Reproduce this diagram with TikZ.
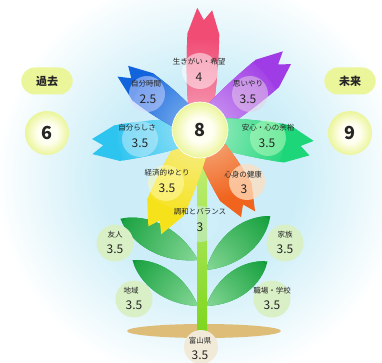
\documentclass[tikz,border=0pt]{standalone}
\usepackage{fontspec}
\setmainfont{Noto Sans CJK JP}
\usetikzlibrary{shapes.misc}

\definecolor{inkgray}{HTML}{262626}
\definecolor{skyglow}{HTML}{CDEEF8}
\definecolor{coreIn}{HTML}{FFFFF2}
\definecolor{coreOut}{HTML}{EBF59A}
\definecolor{stemTop}{HTML}{C4F07A}
\definecolor{stemBot}{HTML}{7ED61E}
\definecolor{leafLight}{HTML}{86D896}
\definecolor{leafDark}{HTML}{0E9C38}
\definecolor{groundTan}{HTML}{DDBD78}
\definecolor{sideGreen}{HTML}{D9F0C6}
\definecolor{homeBeige}{HTML}{F2EAD8}
% petal colours, light / dark
\definecolor{hopeL}{HTML}{F7A6BC}\definecolor{hopeD}{HTML}{F04C74}
\definecolor{careL}{HTML}{D2A6F2}\definecolor{careD}{HTML}{A03CE6}
\definecolor{easeL}{HTML}{A8EEC8}\definecolor{easeD}{HTML}{1ED67A}
\definecolor{healthL}{HTML}{F6B68E}\definecolor{healthD}{HTML}{F0641E}
\definecolor{moneyL}{HTML}{F6EE96}\definecolor{moneyD}{HTML}{F6E21A}
\definecolor{selfL}{HTML}{A2E4F6}\definecolor{selfD}{HTML}{2EC4F0}
\definecolor{timeL}{HTML}{8EBCF0}\definecolor{timeD}{HTML}{1264DC}

\pgfdeclareradialshading{glowshade}{\pgfpoint{0bp}{0bp}}{color(0bp)=(skyglow); color(12bp)=(skyglow); color(25bp)=(white); color(50bp)=(white)}
\pgfdeclareradialshading{coreshade}{\pgfpoint{0bp}{0bp}}{color(0bp)=(coreIn); color(11bp)=(coreIn); color(25bp)=(coreOut); color(50bp)=(coreOut)}

\tikzset{
  lbl/.style={font=\fontsize{7.5}{8}\selectfont, text=inkgray},
  val/.style={font=\fontsize{12}{12}\selectfont, text=inkgray},
  big/.style={font=\bfseries\fontsize{18}{18}\selectfont, text=inkgray},
  tint/.style={circle, fill=#1, fill opacity=.5, minimum size=36},
  bubble/.style={circle, fill=#1, minimum size=37},
  era/.style={rounded rectangle, fill=coreOut, minimum width=58, minimum height=27,
    font=\bfseries\fontsize{11}{11}\selectfont, text=inkgray},
  orb/.style={circle, shading=coreshade, minimum size=44},
}

% angle, length, half width, light colour, dark colour
\newcommand\petal[5]{%
  \begin{scope}[shift={(200,130)}, rotate=#1]
    \begin{scope}
      \clip (14,-#3+5) .. controls (40,-#3) and (#2-40,-#3) .. (#2-26,-#3)
        -- (#2,-7) -- (#2-12,0) -- (#2-2,8) -- (#2-26,#3)
        .. controls (#2-40,#3) and (40,#3) .. (14,#3-5) -- cycle;
      \fill[#5] (0,-40) rectangle (#2+5,40);
      \shade[inner color=#4, outer color=#5] (0,0) circle (0.75*#2);
    \end{scope}
  \end{scope}}

% base x, base y, angle, length, width
\newcommand\leaf[5]{%
  \begin{scope}[shift={(#1,#2)}, rotate=#3]
    \begin{scope}
      \clip (0,0) .. controls (0.35*#4,#5) and (0.75*#4,0.9*#5) .. (#4,0)
        .. controls (0.75*#4,-0.9*#5) and (0.35*#4,-#5) .. (0,0) -- cycle;
      \fill[leafDark] (0,-30) rectangle (#4+5,30);
      \shade[inner color=leafLight, outer color=leafDark] (0,0) circle (0.95*#4);
    \end{scope}
  \end{scope}}

\begin{document}
\begin{tikzpicture}[x=1pt, y=-1pt]
  \useasboundingbox (0,0) rectangle (382,363);
  \fill[white] (0,0) rectangle (382,363);
  \shade[shading=glowshade] (200,178) circle (205);

  \fill[groundTan] (204,331) ellipse [x radius=77, y radius=7];

  \leaf{198}{260}{152}{88}{20}
  \leaf{206}{270}{40}{84}{20}
  \leaf{198}{306}{145}{80}{18}
  \leaf{206}{306}{36}{76}{18}

  \shade[top color=stemTop, bottom color=stemBot] (197,150) rectangle (207,331);

  \petal{88}{122}{16}{hopeL}{hopeD}
  \petal{40}{114}{18}{careL}{careD}
  \petal{-9}{114}{19}{easeL}{easeD}
  \petal{-60}{98}{18}{healthL}{healthD}
  \petal{-114}{111}{20}{moneyL}{moneyD}
  \petal{189}{110}{18}{selfL}{selfD}
  \petal{143}{98}{17}{timeL}{timeD}

  \node[tint=white] (hopeTint) at (200,71) {};
  \node[tint=blue!15!white] (timeTint) at (147,94) {};
  \node[tint=violet!18!white] (careTint) at (250,94) {};
  \node[tint=cyan!20!white] (selfTint) at (140,139) {};
  \node[tint=green!25!white] (easeTint) at (268,138) {};
  \node[tint=yellow!30!white] (moneyTint) at (166,183) {};
  \node[tint=orange!25!white, fill opacity=.75] (healthTint) at (247,182) {};
  \node[tint=cyan!18!white] (balanceTint) at (200,224) {};

  \node[circle, shading=coreshade, draw=white, line width=.6, minimum size=56] (core) at (200,130) {};
  \node[big] (coreVal) at (core) {8};

  \node[lbl] (hopeLbl) at (199,62) {生きがい・希望};
  \node[val] (hopeVal) at (199,77) {4};
  \node[lbl] (timeLbl) at (146,84) {自分時間};
  \node[val] (timeVal) at (148,99) {2.5};
  \node[lbl] (careLbl) at (248,84) {思いやり};
  \node[val] (careVal) at (248,99) {3.5};
  \node[lbl] (selfLbl) at (137,128) {自分らしさ};
  \node[val] (selfVal) at (140,143) {3.5};
  \node[lbl] (easeLbl) at (268,128) {安心・心の余裕};
  \node[val] (easeVal) at (267,143) {3.5};
  \node[lbl] (moneyLbl) at (167,173) {経済的ゆとり};
  \node[val] (moneyVal) at (167,188) {3.5};
  \node[lbl] (healthLbl) at (243,175) {心身の健康};
  \node[val] (healthVal) at (244,189) {3};
  \node[lbl] (balanceLbl) at (200,212) {調和とバランス};
  \node[val] (balanceVal) at (200,227) {3};

  \node[bubble=sideGreen] (friend) at (115,243) {};
  \node[lbl] (friendLbl) at (115,235) {友人};
  \node[val] (friendVal) at (115,249) {3.5};
  \node[bubble=sideGreen] (family) at (285,243) {};
  \node[lbl] (familyLbl) at (285,235) {家族};
  \node[val] (familyVal) at (285,249) {3.5};
  \node[bubble=sideGreen] (region) at (134,299) {};
  \node[lbl] (regionLbl) at (131,291) {地域};
  \node[val] (regionVal) at (134,305) {3.5};
  \node[bubble=sideGreen] (work) at (272,299) {};
  \node[lbl] (workLbl) at (272,291) {職場・学校};
  \node[val] (workVal) at (272,305) {3.5};
  \node[bubble=homeBeige, minimum size=34] (home) at (201,347) {};
  \node[lbl] (homeLbl) at (200,341) {富山県};
  \node[val] (homeVal) at (200,355) {3.5};

  \node[era] (past) at (47,81) {過去};
  \node[orb] (pastOrb) at (47,133) {};
  \node[big] (pastVal) at (pastOrb) {6};
  \node[era] (future) at (350,81) {未来};
  \node[orb] (futureOrb) at (350,133) {};
  \node[big] (futureVal) at (futureOrb) {9};
\end{tikzpicture}
\end{document}
